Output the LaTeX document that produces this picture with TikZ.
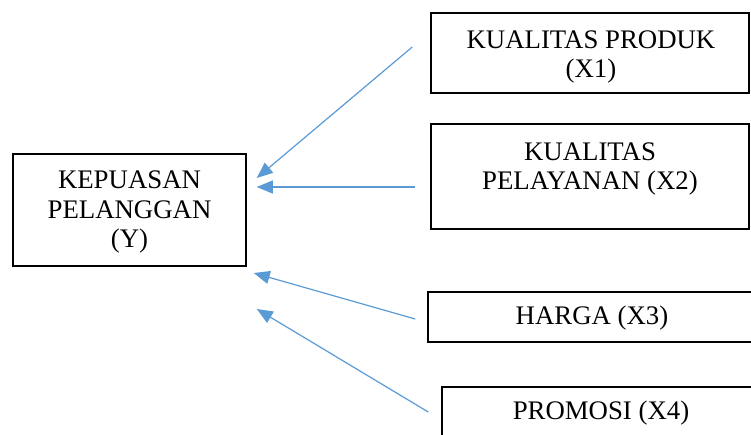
\documentclass[tikz,border=0pt]{standalone}
\usepackage{fontspec}
\setmainfont{Liberation Serif}
\usetikzlibrary{arrows.meta,calc}
\definecolor{arrowblue}{HTML}{5B9BD5}
\tikzset{
  box/.style={draw=black, line width=1.5pt, rectangle, inner sep=0pt, fill=none},
  txt/.style={align=center, inner sep=0pt, font=\fontsize{26.8}{29.8}\selectfont},
  arr/.style={draw=arrowblue, line width=1.2pt, -{Triangle[length=16pt,width=13pt]}}
}
\begin{document}
\begin{tikzpicture}[x=1pt,y=-1pt]
\useasboundingbox (0,0) rectangle (751,434);
\clip (0,0) rectangle (751,434);
\fill[white] (0,0) rectangle (751,434);
% boxes
\node[box, minimum width=233pt, minimum height=112pt] (y) at (129.5,210) {};
\node[txt] (yt) at (129.5,212) {KEPUASAN\\PELANGGAN\\(Y)};
\node[box, minimum width=318pt, minimum height=80pt] (x1) at (590,53) {};
\node[txt] (x1t) at (591,57) {KUALITAS PRODUK\\(X1)};
\node[box, minimum width=318pt, minimum height=105pt] (x2) at (590,176.5) {};
\node[txt] (x2t) at (590,169) {KUALITAS\\PELAYANAN (X2)};
\node[box, minimum width=342pt, minimum height=50pt] (x3) at (599,317) {};
\node[txt] (x3t) at (592,318) {HARGA (X3)};
\node[box, minimum width=330pt, minimum height=70pt] (x4) at (607,422) {};
\node[txt] (x4t) at (601,413) {PROMOSI (X4)};
% connector ends
\coordinate (s1) at ($(x1.west)+(-18,-6)$);
\coordinate (e1) at ($(y.east)+(10,-32)$);
\coordinate (s2) at ($(x2.west)+(-15,10.5)$);
\coordinate (e2) at ($(y.east)+(10,-23)$);
\coordinate (s3) at ($(x3.west)+(-12,2)$);
\coordinate (e3) at ($(y.east)+(7,63)$);
\coordinate (s4) at ($(x4.west)+(-13,-10)$);
\coordinate (e4) at ($(y.east)+(10,99)$);
\draw[arr] (s1) -- (e1);
\draw[arr] (s2) -- (e2);
\draw[arr] (s3) -- (e3);
\draw[arr] (s4) -- (e4);
\end{tikzpicture}
\end{document}
